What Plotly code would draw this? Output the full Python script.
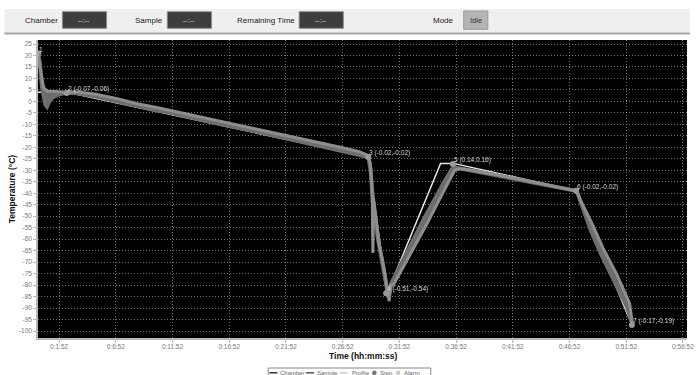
import plotly.graph_objects as go

# ---------------- data ----------------
chamber_t = [0, 10, 22, 30, 40, 48, 60, 80, 110, 150, 200, 300, 400, 450, 500, 600, 700, 800,
             900, 1000, 1100, 1200, 1300, 1400, 1500, 1600, 1700, 1748, 1760, 1773, 1799, 1825,
             1845, 1855, 1870, 1950, 2050, 2150, 2190, 2210, 2300, 2400, 2500, 2600, 2700, 2800,
             2847, 2855, 2880, 2924, 2976, 3046, 3116, 3142]
chamber_T = [21.0, 17.0, 6.0, 2.0, -1.5, -2.3, 0.0, 1.8, 3.0, 3.8, 3.6, 2.2, 0.3, -0.8, -1.4, -3.4,
             -5.0, -6.9, -8.6, -10.5, -12.1, -14.0, -15.9, -17.7, -19.6, -21.5, -23.3, -24.2, -30.0,
             -45.0, -60.0, -72.0, -80.0, -85.5, -79.0, -66.0, -50.0, -35.0, -29.5, -28.8, -30.2,
             -31.8, -33.3, -34.9, -36.5, -38.1, -38.9, -40.0, -46.0, -56.0, -66.0, -78.0, -89.5, -96.5]

sample_t = [0, 15, 30, 50, 100, 150, 200, 300, 420, 460, 520, 640, 760, 880, 1000, 1120, 1240,
            1360, 1480, 1600, 1700, 1748, 1758, 1768, 1772, 1775, 1790, 1805, 1830, 1850, 1858,
            1866, 1880, 1960, 2060, 2160, 2205, 2230, 2300, 2500, 2700, 2850, 2870, 2930, 2990,
            3060, 3130, 3145]
sample_T = [20.5, 14.0, 6.0, 4.5, 4.3, 4.0, 4.2, 3.2, 1.2, 0.4, -0.9, -2.9, -5.0, -7.2, -9.3,
            -11.4, -13.5, -15.6, -17.8, -20.0, -21.9, -23.6, -27.0, -38.0, -66.0, -42.0, -52.0,
            -62.0, -72.0, -82.0, -87.0, -80.0, -80.0, -68.0, -53.0, -37.0, -30.0, -29.3, -30.0,
            -33.1, -36.3, -39.0, -43.0, -53.0, -64.0, -75.0, -88.0, -97.0]

profile_t = [0, 155, 1748, 1845, 2130, 2198, 2847, 3142]
profile_T = [4.0, 4.0, -24.2, -84.0, -27.0, -27.0, -38.9, -97.4]

step_t = [2, 152, 1748, 1842, 2195, 2847, 3142]
step_T = [21.0, 3.7, -24.2, -83.6, -27.3, -38.9, -97.4]
step_labels = ["1", "2 (-0.07,-0.06)", "3 (-0.02,-0.02)", "4 (-0.51,-0.54)",
               "5 (0.14,0.16)", "6 (-0.02,-0.02)", "7 (-0.17,-0.19)"]

x_tick_vals = [112, 412, 712, 1012, 1312, 1612, 1912, 2212, 2512, 2812, 3112, 3412]
x_tick_labels = ["0:1:52", "0:6:52", "0:11:52", "0:16:52", "0:21:52", "0:26:52",
                 "0:31:52", "0:36:52", "0:41:52", "0:46:52", "0:51:52", "0:56:52"]
y_tick_vals = [25, 20, 15, 10, 5, 0, -5, -10, -15, -20, -25, -30, -35, -40, -45, -50,
               -55, -60, -65, -70, -75, -80, -85, -90, -95, -100]
y_tick_labels = [str(v) for v in y_tick_vals]

header_labels = ["Chamber", "Sample", "Remaining Time"]
header_values = ["--:--", "--:--", "--:--"]
mode_label = "Mode"
mode_value = "Idle"
legend_names = ["Chamber", "Sample", "Profile", "Step", "Alarm"]

# ---------------- layout helpers ----------------
W, H = 696, 375
L, R, T, B = 38, 2, 40, 37
PW, PH = W - L - R, H - T - B

def px(x):
    return (x - L) / PW

def py(y):
    return (H - B - y) / PH

SANS = "Liberation Sans, Arial, sans-serif"

fig = go.Figure()

fig.add_trace(go.Scatter(x=profile_t, y=profile_T, mode="lines",
                         line=dict(color="#e8e8e8", width=1.5), name="Profile",
                         showlegend=False, hoverinfo="skip"))
fig.add_trace(go.Scatter(x=chamber_t, y=chamber_T, mode="lines",
                         line=dict(color="#6e6e6e", width=4), name="Chamber",
                         showlegend=False))
fig.add_trace(go.Scatter(x=sample_t, y=sample_T, mode="lines",
                         line=dict(color="#8e8e8e", width=3), name="Sample",
                         fill="tonexty", fillcolor="rgba(112,112,112,0.95)",
                         showlegend=False))
fig.add_trace(go.Scatter(x=step_t, y=step_T, mode="markers",
                         marker=dict(color="#9a9a9a", size=6), name="Step",
                         showlegend=False))

annotations = []
for t, v, lab in zip(step_t, step_T, step_labels):
    annotations.append(dict(x=t, y=v, xref="x", yref="y", text=lab, showarrow=False,
                            xanchor="left", yanchor="middle", xshift=-1, yshift=4,
                            font=dict(family=SANS, size=6.5, color="#d8d8d8")))

shapes = []
# header bar
shapes.append(dict(type="rect", xref="paper", yref="paper", x0=px(4), x1=px(697),
                   y0=py(33), y1=py(9), fillcolor="#efefef", line=dict(width=0), layer="below"))
shapes.append(dict(type="line", xref="paper", yref="paper", x0=px(4), x1=px(697),
                   y0=py(33.5), y1=py(33.5), line=dict(color="#a8a8a8", width=2)))

label_right = [60.7, 166.7, 300]
box_left = [62.7, 168.7, 302]
for lab, val, lr, bl in zip(header_labels, header_values, label_right, box_left):
    annotations.append(dict(x=px(lr), y=py(20), xref="paper", yref="paper", text=lab,
                            showarrow=False, xanchor="right", yanchor="middle",
                            font=dict(family=SANS, size=8, color="#222222")))
    shapes.append(dict(type="rect", xref="paper", yref="paper", x0=px(bl), x1=px(bl + 44.6),
                       y0=py(28.3), y1=py(11.7), fillcolor="#3d3d3d",
                       line=dict(color="#8a8a8a", width=1)))
    annotations.append(dict(x=px(bl + 22.3), y=py(20), xref="paper", yref="paper", text=val,
                            showarrow=False, xanchor="center", yanchor="middle",
                            font=dict(family=SANS, size=7, color="#dddddd")))

annotations.append(dict(x=px(461), y=py(20), xref="paper", yref="paper", text=mode_label,
                        showarrow=False, xanchor="right", yanchor="middle",
                        font=dict(family=SANS, size=8, color="#222222")))
shapes.append(dict(type="rect", xref="paper", yref="paper", x0=px(468.3), x1=px(492.7),
                   y0=py(29.3), y1=py(11), fillcolor="#b4b4b4",
                   line=dict(color="#9a9a9a", width=1)))
annotations.append(dict(x=px(480.5), y=py(20), xref="paper", yref="paper", text=mode_value,
                        showarrow=False, xanchor="center", yanchor="middle",
                        font=dict(family=SANS, size=7.5, color="#333333")))

# axis titles
annotations.append(dict(x=px(366.5), y=py(355.5), xref="paper", yref="paper",
                        text="<b>Time (hh:mm:ss)</b>", showarrow=False,
                        xanchor="center", yanchor="middle",
                        font=dict(family=SANS, size=8.5, color="#111111")))
annotations.append(dict(x=px(12), y=py(189), xref="paper", yref="paper",
                        text="<b>Temperature (°C)</b>", showarrow=False, textangle=-90,
                        xanchor="center", yanchor="middle",
                        font=dict(family=SANS, size=8.5, color="#111111")))

# custom legend
shapes.append(dict(type="rect", xref="paper", yref="paper", x0=px(270.7), x1=px(435),
                   y0=py(380), y1=py(368), fillcolor="white",
                   line=dict(color="#888888", width=1)))
ly = 372.8
leg_line_x = [(272, 280), (309, 317), (343, 351)]
leg_line_col = ["#333333", "#555555", "#cccccc"]
leg_text_x = [281, 318, 353, 382, 406]
for (a, b), c in zip(leg_line_x, leg_line_col):
    shapes.append(dict(type="line", xref="paper", yref="paper", x0=px(a), x1=px(b),
                       y0=py(ly), y1=py(ly), line=dict(color=c, width=1.5)))
for xc, c in zip([378, 402], ["#777777", "#cccccc"]):
    shapes.append(dict(type="circle", xref="paper", yref="paper", x0=px(xc - 2.3),
                       x1=px(xc + 2.3), y0=py(ly + 2.3), y1=py(ly - 2.3),
                       fillcolor=c, line=dict(width=0)))
for name, xt in zip(legend_names, leg_text_x):
    annotations.append(dict(x=px(xt), y=py(ly), xref="paper", yref="paper", text=name,
                            showarrow=False, xanchor="left", yanchor="middle",
                            font=dict(family=SANS, size=6, color="#666666")))

axis_common = dict(showgrid=True, gridcolor="rgba(140,140,140,0.8)", griddash="1px,2px",
                   gridwidth=1, zeroline=False, showline=True, linecolor="#b8b8b8",
                   linewidth=1.5, ticks="outside", ticklen=3, tickcolor="#b8b8b8",
                   tickfont=dict(family=SANS, size=6.5, color="#777777"))

fig.update_layout(
    width=W, height=H,
    margin=dict(l=L, r=R, t=T, b=B, pad=0),
    paper_bgcolor="white", plot_bgcolor="black",
    showlegend=False,
    xaxis=dict(range=[0.5, 3433.5], tickmode="array", tickvals=x_tick_vals,
               ticktext=x_tick_labels, ticklabeloverflow="allow",
               ticklabelstandoff=-2, **axis_common),
    yaxis=dict(range=[-103.05, 26.74], tickmode="array", tickvals=y_tick_vals,
               ticktext=y_tick_labels, **axis_common),
    shapes=shapes, annotations=annotations,
)

fig.write_html("out.html", config={"displayModeBar": False},
               post_script="document.body.style.margin='0';document.body.style.overflow='hidden';")
